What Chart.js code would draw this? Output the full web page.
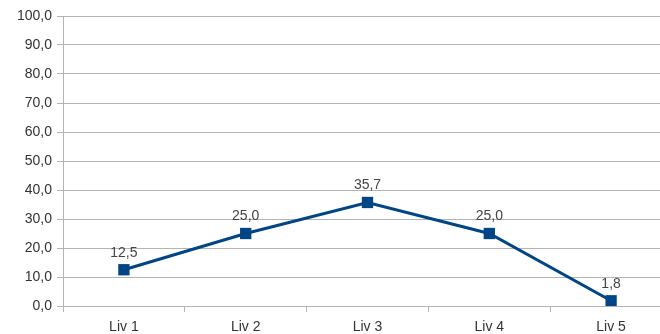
<!DOCTYPE html>
<html>
<head>
<meta charset="utf-8">
<script src="https://cdn.jsdelivr.net/npm/chart.js@4/dist/chart.umd.min.js"></script>
<style>
html,body{margin:0;padding:0;background:#fff;overflow:hidden;width:660px;height:334px;}
#wrap{position:absolute;left:0;top:0;width:680px;height:334px;}
</style>
</head>
<body>
<div id="wrap"><canvas id="c"></canvas></div>
<script>
const categories = ['Liv 1', 'Liv 2', 'Liv 3', 'Liv 4', 'Liv 5'];
const values = [12.5, 25.0, 35.7, 25.0, 1.8];
const yMin = 0, yMax = 100, yStep = 10;

const fmt = v => Number(v).toFixed(1).replace('.', ',');
const FONT = '"Liberation Sans", Arial, sans-serif';

const labelPlugin = {
  id: 'pointLabels',
  afterDatasetsDraw(chart) {
    const ctx = chart.ctx;
    const meta = chart.getDatasetMeta(0);
    ctx.save();
    ctx.font = '14px ' + FONT;
    ctx.fillStyle = '#444444';
    ctx.textAlign = 'center';
    ctx.textBaseline = 'bottom';
    meta.data.forEach((pt, i) => {
      ctx.fillText(fmt(values[i]), pt.x, pt.y - 10);
    });
    ctx.restore();
  }
};

new Chart(document.getElementById('c'), {
  type: 'line',
  data: {
    labels: categories,
    datasets: [{
      data: values,
      borderColor: '#004586',
      backgroundColor: '#004586',
      borderWidth: 3,
      pointStyle: 'rect',
      pointRadius: 8,
      pointHoverRadius: 8,
      pointBorderWidth: 0,
      tension: 0,
      fill: false
    }]
  },
  options: {
    responsive: true,
    maintainAspectRatio: false,
    animation: false,
    events: [],
    layout: { padding: { top: 16, left: 0, right: 0, bottom: 0 } },
    plugins: { legend: { display: false }, tooltip: { enabled: false } },
    scales: {
      x: {
        offset: true,
        grid: {
          offset: true,
          drawOnChartArea: false,
          drawTicks: true,
          tickLength: 6,
          color: '#b3b3b3'
        },
        border: { display: true, color: '#b3b3b3', width: 1 },
        ticks: { color: '#333333', font: { family: FONT, size: 14 }, padding: 7, maxRotation: 0 },
        afterFit(s) { s.height = 28; }
      },
      y: {
        min: yMin, max: yMax,
        ticks: {
          stepSize: yStep,
          color: '#333333',
          font: { family: FONT, size: 14 },
          padding: 5,
          callback: v => fmt(v)
        },
        grid: { color: '#b3b3b3', tickLength: 6, drawTicks: true },
        border: { display: true, color: '#b3b3b3', width: 1 },
        afterFit(s) { s.width = 63; }
      }
    }
  },
  plugins: [labelPlugin]
});
</script>
</body>
</html>
